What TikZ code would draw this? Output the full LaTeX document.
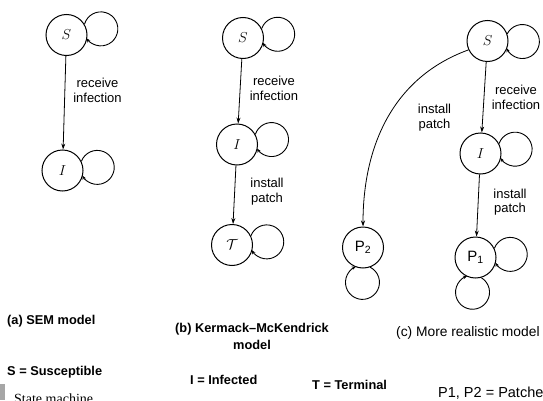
\documentclass[tikz,border=0pt]{standalone}
\usepackage{fontspec}
\setmainfont{Liberation Sans}
\newfontfamily\capserif{Liberation Serif}
\usetikzlibrary{arrows.meta}
\newcommand\mkloop[2]{%
  \pgfmathtruncatemacro\lpA{#2+22}%
  \pgfmathtruncatemacro\lpB{#2+155}%
  \pgfmathtruncatemacro\lpC{#2-155}%
  \draw[loopar] (#1.\lpA) arc[start angle=\lpB, end angle=\lpC, radius=17];}
\begin{document}
\begin{tikzpicture}[x=1pt,y=1pt,
  st/.style={circle,draw,line width=1pt,minimum size=41pt,inner sep=0pt,font=\fontsize{15}{17}\selectfont},
  arr/.style={line width=0.8pt,-{Stealth[length=6pt,width=4pt]}},
  loopar/.style={line width=0.9pt,-{Stealth[length=4pt,width=3.5pt]}},
  lab/.style={align=center,font=\fontsize{13}{14.5}\selectfont,inner sep=0pt},
  capb/.style={font=\bfseries\fontsize{12.8}{17}\selectfont,inner sep=0pt,align=center},
  capr/.style={font=\fontsize{13.8}{17}\selectfont,inner sep=0pt}]
\useasboundingbox (0,0) rectangle (543,400);
\clip (0,0) rectangle (543,400);
% (a)
\node[st] (aS) at (66.5,365) {$S$};
\node[st] (aI) at (62.5,229.5) {$I$};
\draw[arr] (aS) -- (aI);
\mkloop{aS}{9}
\mkloop{aI}{4}
\node[lab] (aL) at (97.5,309.5) {receive\\infection};
% (b)
\node[st] (bS) at (243,362) {$S$};
\node[st] (bI) at (237,255.5) {$I$};
\node[st] (bT) at (232,155) {$\mathcal{T}$};
\draw[arr] (bS) -- (bI);
\draw[arr] (bI) -- (bT);
\mkloop{bS}{5}
\mkloop{bI}{7}
\mkloop{bT}{4}
\node[lab] (bL1) at (274,311.5) {receive\\infection};
\node[lab] (bL2) at (267,208.5) {install\\patch};
% (c)
\node[st] (cS) at (487.5,359) {$S$};
\node[st] (cI) at (480.5,246.5) {$I$};
\node[st] (cP1) at (475.5,142.5) {P\textsubscript{1}};
\node[st] (cP2) at (363,152.5) {P\textsubscript{2}};
\draw[arr] (cS) -- (cI);
\draw[arr] (cI) -- (cP1);
\draw[arr] (cS.205) to[out=200,in=90] (cP2.north);
\mkloop{cS}{-2}
\mkloop{cI}{6}
\mkloop{cP1}{4}
\mkloop{cP1}{-96}
\mkloop{cP2}{-92}
\node[lab] (cL1) at (516,302.5) {receive\\infection};
\node[lab] (cL2) at (434.5,282.5) {install\\patch};
\node[lab] (cL3) at (510,198) {install\\patch};
% captions
\node[capb,anchor=west] (capa) at (7,79) {(a) SEM model};
\node[capb] (capbb) at (252,63.5) {(b) Kermack--McKendrick\\model};
\node[capr,anchor=west] (capc) at (396,67) {(c) More realistic model};
\node[capb,anchor=west] (kS) at (7,28) {S = Susceptible};
\node[capb,anchor=west] (kI) at (190,20) {I = Infected};
\node[capb,anchor=west] (kT) at (312,15) {T = Terminal};
\node[capr,anchor=west,font=\fontsize{14.5}{17}\selectfont] (kP) at (438,7) {P1, P2 = Patches};
\fill[gray!70] (0,0) rectangle (5,16);
\node[font=\capserif\fontsize{14}{16}\selectfont,anchor=base west,inner sep=0pt] (sm) at (14,-3.5) {State machine};
\end{tikzpicture}
\end{document}
